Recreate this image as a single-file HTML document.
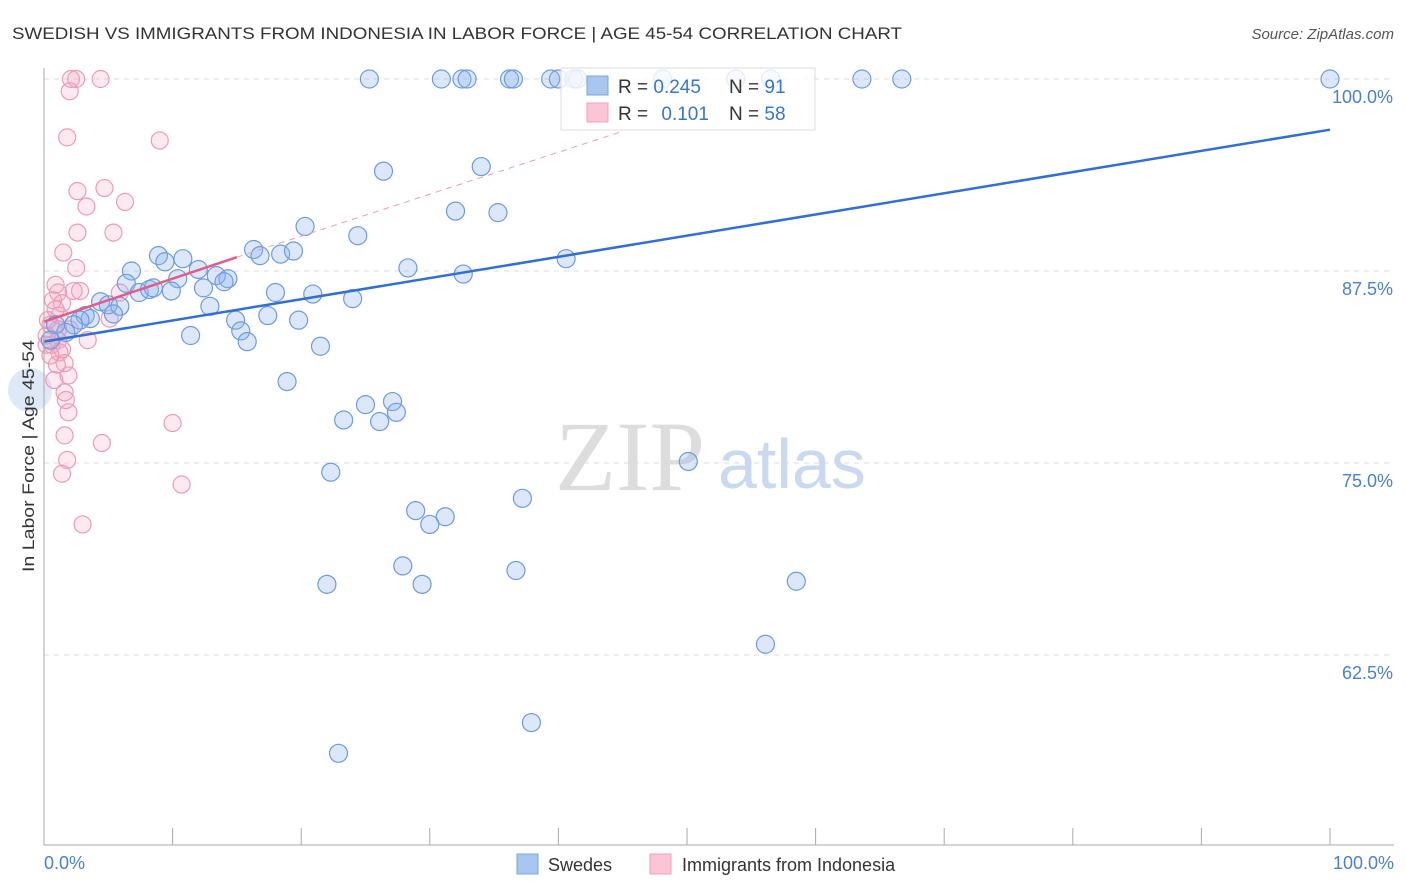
<!DOCTYPE html>
<html><head><meta charset="utf-8"><style>
body{margin:0;background:#fff;width:1406px;height:892px;overflow:hidden;font-family:"Liberation Sans",sans-serif}
svg{position:absolute;left:0;top:0}
</style></head><body>
<svg id="chart" width="1406" height="892">
<text x="12" y="39" font-size="17" fill="#333" textLength="890" lengthAdjust="spacingAndGlyphs">SWEDISH VS IMMIGRANTS FROM INDONESIA IN LABOR FORCE | AGE 45-54 CORRELATION CHART</text>
<text x="1394" y="39" font-size="15" fill="#555" font-style="italic" text-anchor="end">Source: ZipAtlas.com</text>
<g id="grid"></g>
<text x="555" y="490" font-size="100" fill="#ddd" font-family="Liberation Serif,serif">ZIP</text>
<text x="718" y="488" font-size="70" fill="#c9d9f0">atlas</text>
<g id="pts"></g>
<g id="trend"></g>
<line x1="44" y1="68" x2="44" y2="845" stroke="#aaa"/>
<line x1="44" y1="845" x2="1394" y2="845" stroke="#aaa"/>
<g id="xt"></g>
<g id="yl"></g>
<text x="44" y="869" font-size="18" fill="#4a7fd4">0.0%</text>
<text x="1394" y="869" font-size="18" fill="#4a7fd4" text-anchor="end">100.0%</text>
<text transform="translate(34,456) rotate(-90)" font-size="17" fill="#333" text-anchor="middle" textLength="232" lengthAdjust="spacingAndGlyphs">In Labor Force | Age 45-54</text>
<g>
<rect x="561" y="68" width="254" height="62" fill="rgba(255,255,255,0.8)" stroke="#ddd"/>
<rect x="587" y="76" width="21" height="19" fill="#a9c6f0" stroke="#7aa4e0"/>
<rect x="587" y="103" width="21" height="19" fill="#fcc5d5" stroke="#f0a0b8"/>
<text x="618" y="93" font-size="19" fill="#333">R = <tspan fill="#3a74d0">0.245</tspan></text>
<text x="729" y="93" font-size="19" fill="#333">N = <tspan fill="#3a74d0">91</tspan></text>
<text x="618" y="120" font-size="19" fill="#333">R = <tspan fill="#3a74d0" dx="8">0.101</tspan></text>
<text x="729" y="120" font-size="19" fill="#333">N = <tspan fill="#3a74d0">58</tspan></text>
</g>
<g>
<rect x="517" y="854" width="21" height="20" fill="#a9c6f0" stroke="#7aa4e0"/>
<text x="548" y="871" font-size="18" fill="#333">Swedes</text>
<rect x="650" y="854" width="21" height="20" fill="#fcc5d5" stroke="#f0a0b8"/>
<text x="682" y="871" font-size="18" fill="#333">Immigrants from Indonesia</text>
</g>
</svg>
<script>
const yTicks=[100,87.5,75,62.5];
const yTickLabels=["100.0%","87.5%","75.0%","62.5%"];
const xTicks=[0,10,20,30,40,50,60,70,80,90,100];
const swedesX=[25.3,30.9,32.5,32.9,36.2,36.5,39.4,40.0,41.2,41.5,48.1,53.8,56.5,63.6,66.7,100,26.4,34.0,32.0,35.3,20.3,24.4,16.3,16.8,18.4,19.4,8.9,9.4,10.8,6.8,12.0,13.4,14.3,14.0,10.4,28.3,32.6,40.6,6.4,7.4,8.2,8.5,9.9,12.4,18.0,20.9,24.0,4.4,5.0,5.9,12.9,3.2,3.6,2.8,5.4,14.9,17.4,19.8,2.3,1.7,11.4,15.3,15.8,21.5,18.9,27.1,25.0,27.4,23.3,26.1,50.1,22.3,37.2,28.9,31.2,30.0,27.9,22.0,29.4,36.7,58.5,56.1,37.9,22.9,0.9,0.5];
const swedesY=[100,100,100,100,100,100,100,100,100,100,100,100,100,100,100,100,94.0,94.3,91.4,91.3,90.4,89.8,88.9,88.5,88.6,88.8,88.5,88.1,88.3,87.5,87.6,87.2,87.0,86.8,87.0,87.7,87.3,88.3,86.7,86.1,86.3,86.4,86.2,86.4,86.1,86.0,85.7,85.5,85.3,85.2,85.2,84.6,84.4,84.3,84.7,84.3,84.6,84.3,84.0,83.5,83.3,83.6,82.9,82.6,80.3,79.0,78.8,78.3,77.8,77.7,75.1,74.4,72.7,71.9,71.5,71.0,68.3,67.1,67.1,68.0,67.3,63.2,58.1,56.1,84.0,83.0];
const indoX=[2.1,2.5,4.4,2.0,1.8,9.0,2.6,4.7,3.3,6.3,2.6,5.4,1.5,2.5,0.9,1.1,2.3,2.8,1.4,1.2,0.5,1.1,2.0,3.4,0.6,1.2,1.6,1.0,0.8,1.9,1.6,1.7,1.9,1.6,4.5,10.0,1.8,1.4,10.7,3.0,5.9,5.1,0.7,0.3,0.2,0.5,1.1,0.2,0.9,1.4];
const indoY=[100,100,100,99.2,96.2,96.0,92.7,92.9,91.7,92.0,90.0,90.0,88.7,87.7,86.6,86.1,86.2,86.2,85.4,84.6,84.0,83.7,83.7,83.0,82.7,82.2,81.5,81.4,80.4,80.7,79.6,79.1,78.3,76.8,76.3,77.6,75.2,74.3,73.6,71.0,86.1,84.4,85.6,84.3,83.3,82.0,83.0,82.7,85.0,82.4];
const blueTrend=[[0,82.9],[100,96.7]];
const pinkTrend=[[0,84.2],[15,88.4]];
const pinkDash=[[15,88.4],[45,96.6]];
const NS="http://www.w3.org/2000/svg";
const X=v=>44+v*12.86, Y=v=>79+(100-v)*15.36;
function mk(t,a,p){const e=document.createElementNS(NS,t);for(const k in a)e.setAttribute(k,a[k]);p.appendChild(e);return e;}
const grid=document.getElementById('grid'),yl=document.getElementById('yl'),xt=document.getElementById('xt');
yTicks.forEach((t,i)=>{
 const l=mk('line',{x1:44,x2:1394,y1:Y(t),y2:Y(t),stroke:'#ddd','stroke-dasharray':'5,5'},grid);
 
 
 const tx=mk('text',{x:1393,y:Y(t)+24,'font-size':18,fill:'#4a7fd4','text-anchor':'end'},yl);
 tx.textContent=yTickLabels[i];
 
 
});
xTicks.forEach(t=>{
 const l=mk('line',{x1:X(t),x2:X(t),y1:828,y2:845,stroke:'#aaa'},xt);
 
 
});
const pts=document.getElementById('pts');
const big=mk('circle',{cx:30,cy:390,r:22,fill:'rgba(150,180,230,0.3)',stroke:'none'},pts);


indoX.forEach((x,i)=>{
 const c=mk('circle',{cx:X(x),cy:Y(indoY[i]),r:8.5,fill:'rgba(245,160,185,0.22)',stroke:'#ef9bb7','stroke-width':1.2},pts);
 
 
});
swedesX.forEach((x,i)=>{
 const c=mk('circle',{cx:X(x),cy:Y(swedesY[i]),r:9,fill:'rgba(140,180,240,0.3)',stroke:'#6d9be0','stroke-width':1.2},pts);
 
 
});
const tr=document.getElementById('trend');
const b=mk('line',{x1:X(blueTrend[0][0]),y1:Y(blueTrend[0][1]),x2:X(blueTrend[1][0]),y2:Y(blueTrend[1][1]),stroke:'#2f6fd6','stroke-width':2.5},tr);


const pd=mk('line',{x1:X(pinkDash[0][0]),y1:Y(pinkDash[0][1]),x2:X(pinkDash[1][0]),y2:Y(pinkDash[1][1]),stroke:'#e8a0b8','stroke-width':1,'stroke-dasharray':'6,5'},tr);


const p=mk('line',{x1:X(pinkTrend[0][0]),y1:Y(pinkTrend[0][1]),x2:X(pinkTrend[1][0]),y2:Y(pinkTrend[1][1]),stroke:'#e45b86','stroke-width':2.5},tr);


</script>
</body></html>
